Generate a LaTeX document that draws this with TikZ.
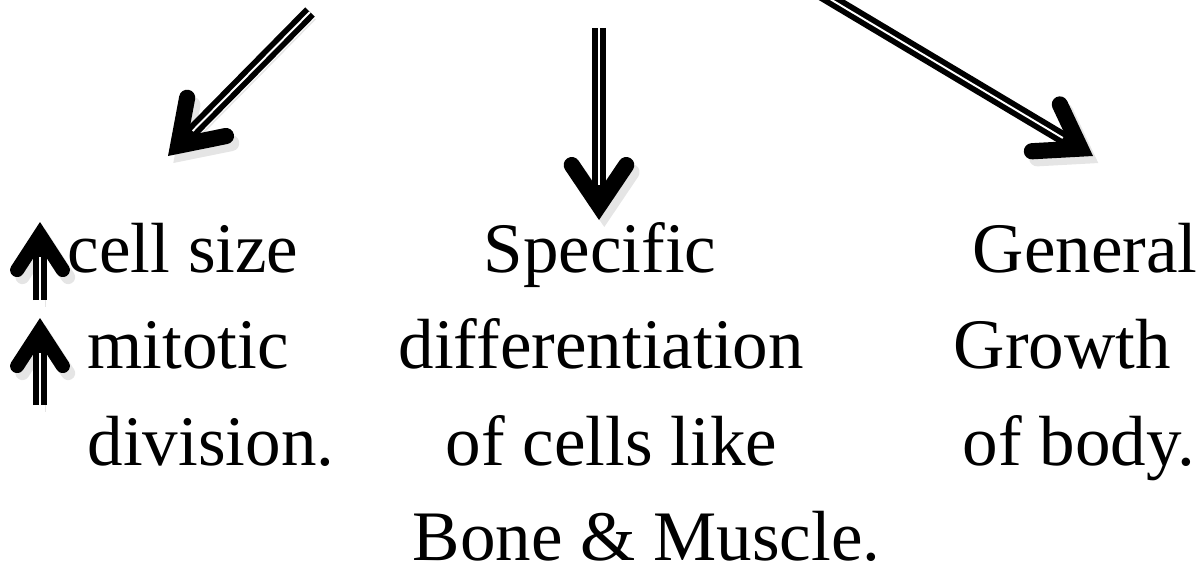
\documentclass[tikz,border=0pt]{standalone}
\usepackage{fontspec}
\setmainfont{Liberation Serif}
\usetikzlibrary{arrows.meta,calc}
\tikzset{growth/.style={line width=3.8pt,
		-{Straight Barb[length=11.5pt,width=15.5pt,line width=4.6pt,line cap=round,line join=miter]},
		preaction={draw=black!20,opacity=.5,transform canvas={shift={(1.5pt,-2pt)}}},
		postaction={draw=white,line width=.55pt,arrows=-,shorten >=10pt}},
	upgrowth/.style={growth,
		-{Straight Barb[length=10pt,width=13pt,line width=4pt,line cap=round,line join=miter]}},
	txt/.style={anchor=base west,inner sep=0pt,font=\fontsize{20.2}{27.6}\selectfont}}

\begin{document}
\begin{tikzpicture}[x=0.01cm,y=-0.01cm]
	\useasboundingbox (0,0) rectangle (1198,567);
	% left column
	\node[txt] (cellsize) at (67,272) {cell size};
	\node[txt] (mitotic) at (87,368) {mitotic};
	\node[txt] (division) at (87,465) {division.};
	% middle column
	\node[txt] (specific) at (483,272) {Specific};
	\node[txt] (differ) at (398,368) {differentiation};
	\node[txt] (cellslike) at (445,465) {of cells like};
	\node[txt] (bonemuscle) at (412,560) {Bone \& Muscle.};
	% right column
	\node[txt] (general) at (972,272) {General};
	\node[txt] (growthtxt) at (953,368) {Growth};
	\node[txt] (ofbody) at (962,465) {of body.};
	% arrow ends
	\coordinate (lefttop) at (310,12);
	\coordinate (lefttip) at (168,156);
	\coordinate (midtop) at (599,28);
	\coordinate (midtip) at (599,220);
	\coordinate (righttop) at (815,-10);
	\coordinate (righttip) at (1093,156);
	\coordinate (sizefoot) at (40,300);
	\coordinate (sizetip) at (40,222);
	\coordinate (mitofoot) at (40,405);
	\coordinate (mitotip) at (40,318);
	\draw[growth] (lefttop) -- (lefttip);
	\draw[growth] (midtop) -- (midtip);
	\draw[growth] (righttop) -- (righttip);
	\draw[upgrowth] (sizefoot) -- (sizetip);
	\draw[upgrowth] (mitofoot) -- (mitotip);
\end{tikzpicture}
\end{document}
